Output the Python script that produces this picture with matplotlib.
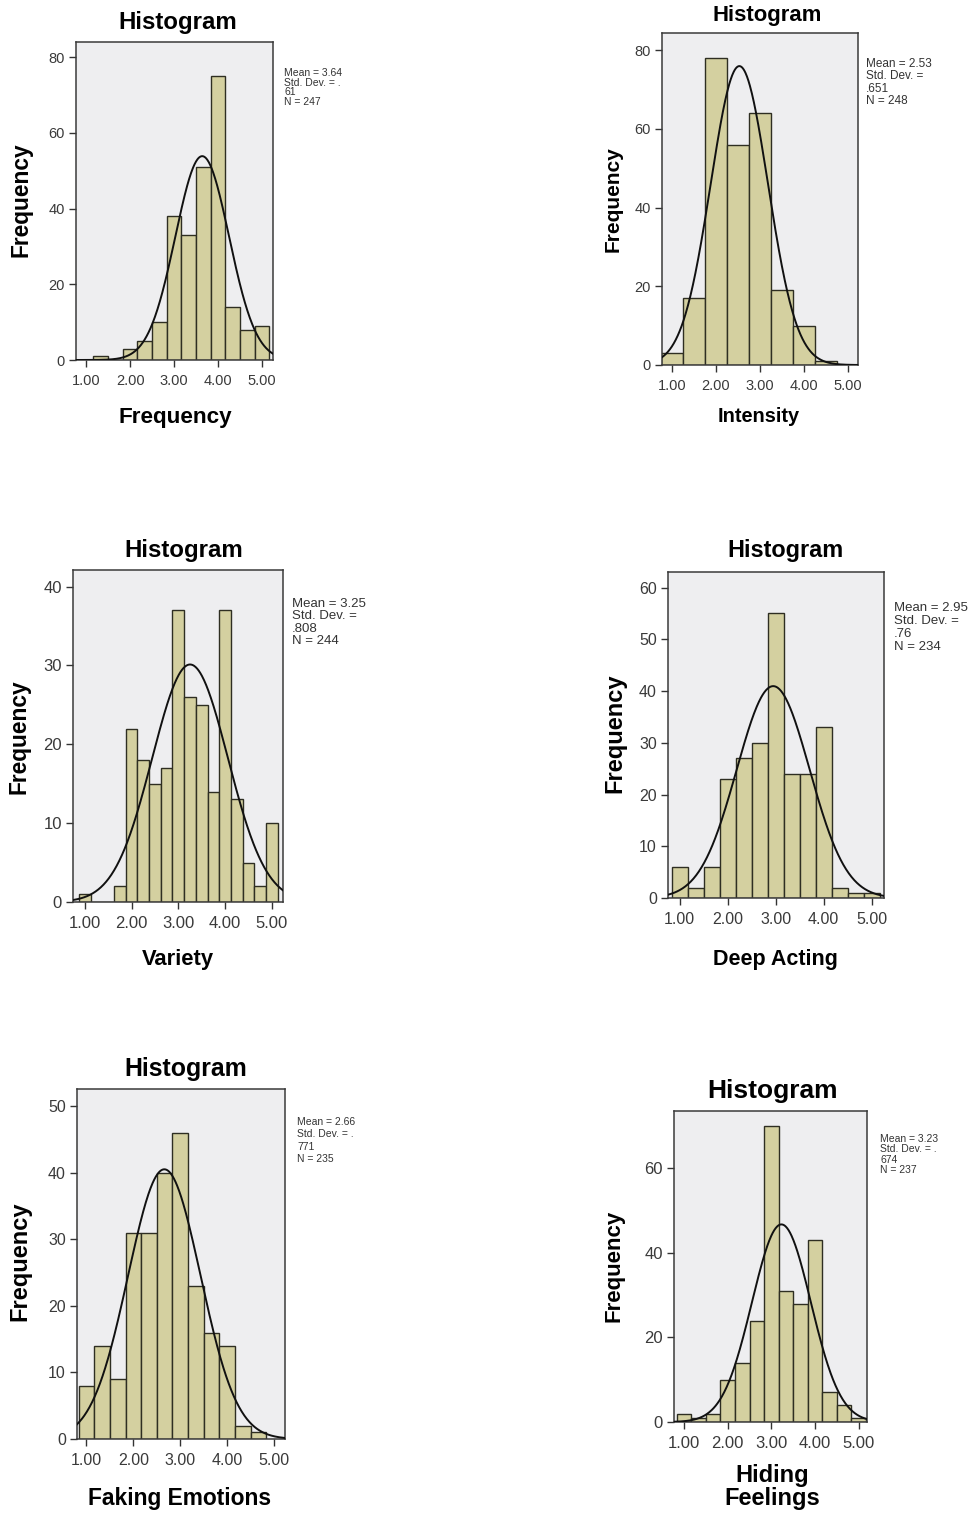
import numpy as np
import matplotlib
matplotlib.use("Agg")
import matplotlib.pyplot as plt

# ---------------- data ----------------
variables = ["Frequency", "Intensity", "Variety", "Deep Acting", "Faking Emotions", "Hiding\nFeelings"]

freq_counts = [1, 0, 3, 5, 10, 38, 33, 51, 75, 14, 8, 9]
intens_counts = [3, 17, 78, 56, 64, 19, 10, 1]
variety_counts = [1, 0, 0, 2, 22, 18, 15, 17, 37, 26, 25, 14, 37, 13, 5, 2, 10]
deep_counts = [6, 2, 6, 23, 27, 30, 55, 24, 24, 33, 2, 1, 1]
faking_counts = [8, 14, 9, 31, 31, 40, 46, 23, 16, 14, 2, 1]
hiding_counts = [2, 1, 2, 10, 14, 24, 70, 31, 28, 43, 7, 4, 1]

first_centers = [4 / 3, 1.0, 1.0, 1.0, 1.0, 1.0]
bin_widths = [1 / 3, 0.5, 0.25, 1 / 3, 1 / 3, 1 / 3]

means = [3.64, 2.53, 3.25, 2.95, 2.66, 3.23]
sds = [0.61, 0.651, 0.808, 0.76, 0.771, 0.674]
ns = [247, 248, 244, 234, 235, 237]

stat_texts = [
    "Mean = 3.64\nStd. Dev. = .\n61\nN = 247",
    "Mean = 2.53\nStd. Dev. =\n.651\nN = 248",
    "Mean = 3.25\nStd. Dev. =\n.808\nN = 244",
    "Mean = 2.95\nStd. Dev. =\n.76\nN = 234",
    "Mean = 2.66\nStd. Dev. = .\n771\nN = 235",
    "Mean = 3.23\nStd. Dev. = .\n674\nN = 237",
]

x_ticks = [1.0, 2.0, 3.0, 4.0, 5.0]
x_ticklabels = ["1.00", "2.00", "3.00", "4.00", "5.00"]
y_ticks = [
    [0, 20, 40, 60, 80],
    [0, 20, 40, 60, 80],
    [0, 10, 20, 30, 40],
    [0, 10, 20, 30, 40, 50, 60],
    [0, 10, 20, 30, 40, 50],
    [0, 20, 40, 60],
]
all_counts = [freq_counts, intens_counts, variety_counts, deep_counts, faking_counts, hiding_counts]

# ---------------- layout (pixels) ----------------
W, H = 972, 1513
axes_px = [(76, 42, 273, 360), (662, 33, 858, 365), (73, 570, 283, 902),
           (668, 572, 884, 898), (77, 1089, 285, 1439), (674, 1111, 867, 1422)]
xlims = [(0.77, 5.25), (0.77, 5.23), (0.75, 5.235), (0.757, 5.26), (0.80, 5.23), (0.77, 5.19)]
ylims = [84, 84.4, 42.1, 63, 52.6, 73.6]
title_px = [(178, 22), (767, 16), (184, 551), (785, 551), (186, 1069), (772, 1091)]
title_fs = [17.3, 15.9, 17.3, 16.9, 17.9, 19.0]
xlabel_px = [(175, 417), (759, 417), (178, 960), (775, 960), (180, 1499), (772, 1487)]
xlabel_fs = [16.2, 14.4, 15.8, 15.5, 16.4, 17.0]
ylabel_px = [(21, 200), (613, 199), (19, 737), (615, 733), (20, 1261), (614, 1266)]
ylabel_fs = [16.4, 15.0, 16.4, 17.0, 17.0, 16.0]
tick_fs = [10.5, 10.5, 12.0, 11.5, 11.5, 12.0]
stat_px = [(284, 68), (866, 58), (292, 598), (894, 602), (297, 1117), (880, 1134)]
stat_fs = [7.5, 8.5, 9.5, 9.5, 7.5, 7.5]
stat_ls = [0.95, 1.05, 1.05, 1.1, 1.3, 1.05]

BAR = "#D4D0A0"
BG = "#EEEEF0"
EDGE = "#2E2E22"
FONT = ["Liberation Sans", "DejaVu Sans"]

plt.rcParams["font.family"] = FONT

fig = plt.figure(figsize=(W / 100, H / 100), dpi=100)

for i in range(6):
    l, t, r, b = axes_px[i]
    ax = fig.add_axes([l / W, 1 - b / H, (r - l) / W, (b - t) / H])
    ax.set_facecolor(BG)
    counts = np.array(all_counts[i], dtype=float)
    centers = first_centers[i] + bin_widths[i] * np.arange(len(counts))
    ax.bar(centers, counts, width=bin_widths[i], color=BAR, edgecolor=EDGE, linewidth=1.0, zorder=2)

    xs = np.linspace(xlims[i][0], xlims[i][1], 400)
    ys = ns[i] * bin_widths[i] / (sds[i] * np.sqrt(2 * np.pi)) * np.exp(-0.5 * ((xs - means[i]) / sds[i]) ** 2)
    ax.plot(xs, ys, color="#111111", linewidth=1.4, zorder=3)

    ax.set_xlim(*xlims[i])
    ax.set_ylim(0, ylims[i])
    ax.set_xticks(x_ticks)
    ax.set_xticklabels(x_ticklabels)
    ax.set_yticks(y_ticks[i])
    ax.tick_params(axis="both", direction="out", length=5, width=1.0, color="#333333",
                   labelsize=tick_fs[i], labelcolor="#3a3a3a")
    ax.tick_params(axis="x", pad=5)
    ax.tick_params(axis="y", pad=3)
    ax.tick_params(top=False, right=False)
    for s in ax.spines.values():
        s.set_color("#3a3a3a")
        s.set_linewidth(1.1)

    w, h = r - l, b - t
    tx, ty = title_px[i]
    ax.set_title("Histogram", x=(tx - l) / w, y=(b - ty) / h, pad=0, va="center",
                 fontsize=title_fs[i], fontweight="bold")
    lx, ly = xlabel_px[i]
    ax.set_xlabel(variables[i], fontsize=xlabel_fs[i], fontweight="bold", linespacing=0.95)
    ax.xaxis.set_label_coords((lx - l) / w, (b - ly) / h)
    ax.xaxis.label.set_va("center")
    yx, yy = ylabel_px[i]
    ax.set_ylabel("Frequency", fontsize=ylabel_fs[i], fontweight="bold")
    ax.yaxis.set_label_coords((yx - l) / w, (b - yy) / h)
    ax.yaxis.label.set_va("center")

    sx, sy = stat_px[i]
    fig.text(sx / W, 1 - sy / H, stat_texts[i], fontsize=stat_fs[i], va="top", ha="left",
             linespacing=stat_ls[i], color="#333333")

fig.savefig("out.png", dpi=100, facecolor="white")
